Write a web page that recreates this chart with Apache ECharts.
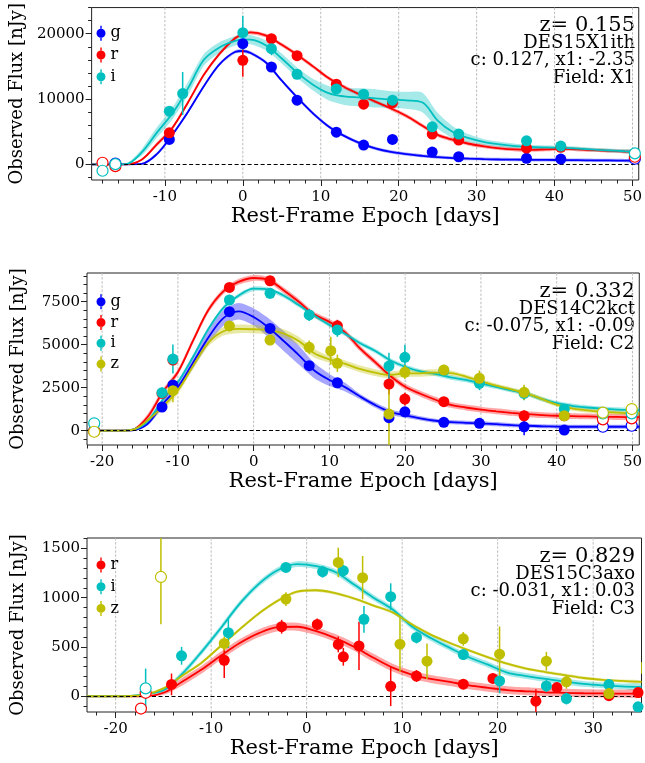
<!DOCTYPE html>
<html><head><meta charset="utf-8">
<script src="https://cdn.jsdelivr.net/npm/echarts@6.0.0/dist/echarts.min.js"></script>
<style>html,body{margin:0;padding:0;background:#fff}#c{width:645px;height:763px}</style>
</head><body><div id="c"></div>
<script>
// ---------------- DATA ----------------
// Panel 1 : DES15X1ith
const P1_XTICKS = [-10, 0, 10, 20, 30, 40, 50];
const P1_YTICKS = [0, 10000, 20000];
const P1_TEXT = ['z= 0.155', 'DES15X1ith', 'c: 0.127, x1: -2.35', 'Field: X1'];
const P1_T = [-19.4,-17,-15,-13,-11,-9,-7,-5,-3,-1,0,1,3,5,7,9,11,13,15,17,19,21,23,25,27,29,31,33,35,37,39,41,43,45,47,49,50.8];
const P1_G_MODEL = [0,0,0,60,1600,4600,8100,11950,15300,17200,17350,17050,15550,12800,10200,7800,5800,4350,3250,2450,1900,1550,1300,1100,960,860,790,740,710,690,670,650,630,610,590,570,550];
const P1_G_WIDTH = [0,0,0,100,250,250,250,250,250,250,250,250,250,250,250,250,250,250,250,250,250,250,250,250,250,250,250,250,250,250,250,250,250,250,250,250,250];
const P1_R_MODEL = [0,0,0,700,3100,5650,9550,13700,16900,19300,19900,20200,19700,18300,16750,15000,13200,11850,10700,9600,8550,7400,5950,4500,3750,3150,2750,2450,2280,2220,2300,2380,2280,2170,2060,1960,1900];
const P1_R_WIDTH = [0,0,0,150,300,300,300,300,300,300,300,300,300,300,300,300,300,300,300,300,300,300,300,300,300,300,300,300,300,300,300,300,300,300,300,300,300];
const P1_I_MODEL = [0,0,40,1800,4900,7850,11700,16000,17900,18900,19130,19100,18200,16200,14000,12200,10900,10400,10250,10100,9900,9800,9500,6700,4900,4000,3400,3050,2800,2650,2580,2530,2400,2250,2120,2000,1920];
const P1_I_WIDTH = [0,0,0,500,800,900,1000,900,800,700,700,700,750,750,800,900,1100,1300,1400,1400,1300,1300,1500,1200,900,600,450,400,350,300,300,300,300,300,300,300,300];
// points: [epoch, flux, error]
const P1_G_PTS = [[-9.43,3820,300],[0,18470,500],[3.67,14900,400],[6.96,9820,400],[12.0,4930,350],[15.5,2950,300],[19.2,3820,350],[24.3,1880,300],[27.7,1160,300],[36.4,920,250],[40.8,810,250]];
const P1_G_OPEN = [[-16.35,100,300],[50.3,850,250]];
const P1_R_PTS = [[-9.43,4820,400],[0,15920,2500],[3.67,19240,400],[6.96,16640,400],[12.0,12260,400],[15.5,9210,400],[19.2,9400,400],[24.3,4630,400],[27.7,3710,400],[36.4,2490,350],[40.8,2600,350]];
const P1_R_OPEN = [[-18.0,240,300],[-16.35,-280,300],[50.3,1160,300]];
const P1_I_PTS = [[-9.43,8140,500],[-7.72,10840,3300],[0,20150,2600],[3.67,17710,1000],[6.96,13790,400],[12.0,11540,400],[15.5,10730,400],[19.2,9820,400],[24.3,5740,400],[27.7,4630,400],[36.4,3600,350],[40.8,2790,350]];
const P1_I_OPEN = [[-18.0,-980,300],[-16.35,30,300],[50.3,1680,300]];

// Panel 2 : DES14C2kct
const P2_XTICKS = [-20, -10, 0, 10, 20, 30, 40, 50];
const P2_YTICKS = [0, 2500, 5000, 7500];
const P2_TEXT = ['z= 0.332', 'DES14C2kct', 'c: -0.075, x1: -0.09', 'Field: C2'];
const P2_T = [-22,-20,-18,-16,-14,-12,-10,-8,-6,-4,-2,0,2,4,6,8,10,12,14,16,18,20,22,24,26,28,30,32,34,36,38,40,42,44,46,48,50,50.9];
const P2_G_MODEL = [0,0,0,20,400,1550,2540,3950,5400,6550,6940,6610,5980,5200,4380,3500,2950,2550,2000,1500,1100,900,720,580,500,460,430,380,320,290,260,240,230,230,230,230,230,230];
const P2_G_WIDTH = [0,0,0,0,100,200,250,300,400,450,480,500,550,580,550,450,350,250,150,150,150,150,120,120,120,120,120,120,120,120,120,120,120,120,120,120,120,120];
const P2_R_MODEL = [0,0,0,60,800,2250,3410,5240,7000,8100,8650,8880,8760,8150,7480,6750,6330,5750,4800,4000,3200,2560,2150,1800,1500,1350,1230,1130,1040,960,910,870,850,830,810,800,790,785];
const P2_R_WIDTH = [0,0,0,0,170,170,170,170,170,170,170,170,170,170,170,170,170,170,170,170,170,170,170,170,170,170,170,170,170,170,170,170,170,170,170,170,170,170];
const P2_I_MODEL = [0,0,0,60,550,1800,2830,4300,5900,7140,7850,8260,8200,7850,7290,6700,6150,5650,5100,4650,4100,3720,3450,3300,3100,2950,2750,2550,2350,2150,1850,1600,1450,1350,1280,1230,1200,1190];
const P2_I_WIDTH = [0,0,0,0,130,130,130,130,130,130,130,130,130,130,130,130,130,130,130,130,130,130,130,130,130,130,130,130,130,130,130,130,130,130,130,130,130,130];
const P2_Z_MODEL = [0,0,0,50,600,1400,2350,3770,5100,5780,5920,5900,5850,5650,5200,4500,4150,3900,3600,3380,3240,3330,3340,3380,3350,3150,2880,2620,2400,2170,1850,1520,1300,1180,1100,1050,1010,1000];
const P2_Z_WIDTH = [0,0,0,0,100,200,200,200,200,250,250,250,250,250,250,250,200,200,200,200,200,200,200,200,150,120,120,120,120,120,120,120,120,120,120,120,120,120];
const P2_G_PTS = [[-12.1,1380,200],[-10.66,2660,250],[-3.2,6920,250],[2.16,5950,250],[7.33,3780,200],[11.05,2790,200],[17.86,760,300],[19.96,1100,250],[25.1,490,200],[29.8,430,200],[35.7,230,500],[41.0,40,200]];
const P2_G_OPEN = [[-21.05,0,150],[46.1,230,150],[49.9,290,150]];
const P2_R_PTS = [[-12.1,2170,250],[-10.66,4110,300],[-3.2,8330,250],[2.16,8720,250],[11.05,6100,350],[17.86,2710,600],[19.96,1840,370],[25.1,1690,250],[35.7,870,300],[41.0,870,250]];
const P2_R_OPEN = [[-21.05,-30,150],[46.1,660,150],[49.9,720,150]];
const P2_I_PTS = [[-12.1,2210,300],[-10.66,4170,850],[-3.2,7600,300],[2.16,7990,300],[7.33,6730,350],[11.05,5860,400],[17.86,3760,780],[19.96,4270,730],[25.1,3480,300],[29.8,2760,400],[35.7,2170,400],[41.0,1260,300]];
const P2_I_OPEN = [[-21.05,430,150],[46.1,1000,150],[49.9,1010,150]];
const P2_Z_PTS = [[-10.66,2330,680],[-3.2,6090,300],[2.16,5270,300],[7.33,4850,400],[10.18,4650,820],[11.05,3920,500],[17.86,970,1800],[19.96,3400,400],[25.1,3530,300],[29.8,3050,450],[35.7,2230,450],[41.0,870,300]];
const P2_Z_OPEN = [[-21.05,-60,150],[46.1,1050,150],[49.9,1260,150]];

// Panel 3 : DES15C3axo
const P3_XTICKS = [-20, -10, 0, 10, 20, 30];
const P3_YTICKS = [0, 500, 1000, 1500];
const P3_TEXT = ['z= 0.829', 'DES15C3axo', 'c: -0.031, x1: 0.03', 'Field: C3'];
const P3_T = [-23,-21,-19,-17,-15,-13,-11,-9,-7,-5,-3,-1,1,3,5,7,9,11,13,15,17,19,21,23,25,27,29,31,33,35.06];
const P3_R_MODEL = [0,0,0,0,35,150,270,410,540,640,700,705,660,590,500,390,290,220,175,145,110,85,62,50,40,35,30,28,27,27];
const P3_R_WIDTH = [0,0,0,0,20,40,40,40,40,40,40,40,40,40,40,40,40,40,40,40,40,40,40,40,40,40,40,40,40,40];
const P3_I_MODEL = [0,0,0,20,60,230,450,690,940,1140,1280,1340,1320,1260,1130,1000,880,710,590,490,395,320,240,205,175,150,125,110,100,95];
const P3_I_WIDTH = [0,0,0,0,15,30,30,30,30,30,30,30,30,30,30,30,30,30,30,30,30,30,30,30,30,30,30,30,30,30];
const P3_Z_MODEL = [0,0,0,15,80,210,340,510,680,840,970,1060,1075,1045,990,920,850,730,625,540,465,395,330,280,245,215,185,165,155,145];
const P3_Z_WIDTH = [0,0,0,0,10,15,15,15,15,15,15,15,15,15,15,15,15,15,15,15,15,15,15,15,15,15,15,15,15,15];
const P3_R_PTS = [[-14.15,120,110],[-8.63,365,180],[-2.62,705,70],[1.11,728,60],[3.31,525,80],[3.84,400,90],[5.48,510,245],[8.8,100,200],[11.5,205,60],[16.4,122,50],[19.5,180,50],[24.0,-50,120],[26.2,88,50],[31.65,5,50],[34.7,37,50]];
const P3_R_OPEN = [[-17.35,-125,40],[-16.86,35,40]];
const P3_I_PTS = [[-13.1,410,90],[-8.2,645,155],[-2.17,1307,40],[1.67,1263,60],[3.84,1273,60],[6.0,780,135],[8.8,1010,135],[11.5,596,60],[16.4,423,40],[20.2,155,125],[25.1,105,60],[27.2,-24,60],[31.65,118,50],[34.7,-108,50]];
const P3_I_OPEN = [[-16.86,80,200]];
const P3_Z_PTS = [[-8.63,535,70],[-2.17,985,70],[3.31,1357,150],[5.86,1202,220],[9.77,528,280],[12.6,355,180],[16.4,582,70],[20.2,427,280],[25.1,355,95],[27.2,146,70],[31.65,27,70],[35.1,288,60]];
const P3_Z_OPEN = [[-15.26,1210,480]];

// ---------------- STYLE / LAYOUT ----------------
const FONT = 'DejaVu Serif';
const COLORS = { g: '#0000ff', r: '#ff0000', i: '#00bfbf', z: '#bfbf00' };
const X_NAME = 'Rest-Frame Epoch [days]';
const Y_NAME = 'Observed Flux [nJy]';
const LEG_ICON = 'path://M0,7.5 A4.5,4.5 0 1,0 9,7.5 A4.5,4.5 0 1,0 0,7.5 Z M3.8,0 L5.2,0 L5.2,3.2 L3.8,3.2 Z M3.8,11.8 L5.2,11.8 L5.2,15 L3.8,15 Z';

const PANELS = [
  { top: 7, height: 173, xMin: -19.4, xMax: 50.8, yMin: -2400, yMax: 24000,
    xMajor: P1_XTICKS, xStep: 2, yMajor: P1_YTICKS, yStep: 2000, t: P1_T, text: P1_TEXT,
    legendTop: 25.3, legendGap: 5.7,
    bands: [
      { band: 'g', model: P1_G_MODEL, width: P1_G_WIDTH, pts: P1_G_PTS, open: P1_G_OPEN },
      { band: 'r', model: P1_R_MODEL, width: P1_R_WIDTH, pts: P1_R_PTS, open: P1_R_OPEN },
      { band: 'i', model: P1_I_MODEL, width: P1_I_WIDTH, pts: P1_I_PTS, open: P1_I_OPEN }
    ] },
  { top: 273, height: 172, xMin: -22, xMax: 50.9, yMin: -830, yMax: 9170,
    xMajor: P2_XTICKS, xStep: 2, yMajor: P2_YTICKS, yStep: 500, t: P2_T, text: P2_TEXT,
    legendTop: 293.7, legendGap: 4.8,
    bands: [
      { band: 'g', model: P2_G_MODEL, width: P2_G_WIDTH, pts: P2_G_PTS, open: P2_G_OPEN },
      { band: 'r', model: P2_R_MODEL, width: P2_R_WIDTH, pts: P2_R_PTS, open: P2_R_OPEN },
      { band: 'i', model: P2_I_MODEL, width: P2_I_WIDTH, pts: P2_I_PTS, open: P2_I_OPEN },
      { band: 'z', model: P2_Z_MODEL, width: P2_Z_WIDTH, pts: P2_Z_PTS, open: P2_Z_OPEN }
    ] },
  { top: 538, height: 174, xMin: -23, xMax: 35.06, yMin: -160, yMax: 1605,
    xMajor: P3_XTICKS, xStep: 2, yMajor: P3_YTICKS, yStep: 100, t: P3_T, text: P3_TEXT,
    legendTop: 557, legendGap: 5.7,
    bands: [
      { band: 'r', model: P3_R_MODEL, width: P3_R_WIDTH, pts: P3_R_PTS, open: P3_R_OPEN },
      { band: 'i', model: P3_I_MODEL, width: P3_I_WIDTH, pts: P3_I_PTS, open: P3_I_OPEN },
      { band: 'z', model: P3_Z_MODEL, width: P3_Z_WIDTH, pts: P3_Z_PTS, open: P3_Z_OPEN }
    ] }
];

function minorTicks(min, max, step, majors) {
  const out = [];
  for (let v = Math.ceil(min / step) * step; v <= max + 1e-9; v += step) {
    if (majors.indexOf(v) < 0) out.push(v);
  }
  return out;
}
const fmt = v => String(v);

const grid = [], xAxis = [], yAxis = [], series = [], legend = [], graphic = [];
PANELS.forEach((P, k) => {
  grid.push({ left: 87, right: 3.5, top: P.top, height: P.height, show: true,
    borderColor: '#222', borderWidth: 1, backgroundColor: 'transparent', containLabel: false });
  xAxis.push({ gridIndex: k, type: 'value', min: P.xMin, max: P.xMax, position: 'bottom',
    axisLine: { show: false, onZero: false },
    axisTick: { show: true, length: 6, lineStyle: { color: '#222', width: 1 }, customValues: P.xMajor },
    axisLabel: { customValues: P.xMajor, formatter: fmt, fontFamily: FONT, fontSize: 15, color: '#000', margin: 10 },
    splitLine: { show: false },
    name: X_NAME, nameLocation: 'middle', nameGap: 25,
    nameTextStyle: { fontFamily: FONT, fontSize: 21, color: '#000' } });
  xAxis.push({ gridIndex: k, type: 'value', min: P.xMin, max: P.xMax, position: 'bottom',
    axisLine: { show: false, onZero: false },
    axisTick: { show: true, length: 3.5, lineStyle: { color: '#222', width: 1 },
      customValues: minorTicks(P.xMin, P.xMax, P.xStep, P.xMajor) },
    axisLabel: { show: false }, splitLine: { show: false } });
  yAxis.push({ gridIndex: k, type: 'value', min: P.yMin, max: P.yMax, position: 'left',
    axisLine: { show: false, onZero: false },
    axisTick: { show: true, length: 6, lineStyle: { color: '#222', width: 1 }, customValues: P.yMajor },
    axisLabel: { customValues: P.yMajor, formatter: fmt, fontFamily: FONT, fontSize: 15, color: '#000', margin: 7 },
    splitLine: { show: false },
    name: Y_NAME, nameLocation: 'middle', nameRotate: 90, nameGap: 60,
    nameTextStyle: { fontFamily: FONT, fontSize: 18, color: '#000' } });
  yAxis.push({ gridIndex: k, type: 'value', min: P.yMin, max: P.yMax, position: 'left',
    axisLine: { show: false, onZero: false },
    axisTick: { show: true, length: 3.5, lineStyle: { color: '#222', width: 1 },
      customValues: minorTicks(P.yMin, P.yMax, P.yStep, P.yMajor) },
    axisLabel: { show: false }, splitLine: { show: false } });

  const xi = 2 * k, yi = 2 * k;
  // vertical dashed grid lines at major x ticks
  series.push({ type: 'custom', name: 'grid' + k, xAxisIndex: xi, yAxisIndex: yi, z: 0, silent: true,
    data: P.xMajor.map(v => [v, P.yMin]),
    renderItem: (params, api) => {
      const cs = params.coordSys;
      const px = api.coord([api.value(0), api.value(1)])[0];
      return { type: 'line', shape: { x1: px, y1: cs.y, x2: px, y2: cs.y + cs.height },
        style: { stroke: '#bdbdbd', lineWidth: 1, lineDash: [2.5, 1.6] } };
    } });

  P.bands.forEach((B, bi) => {
    const c = COLORS[B.band];
    // uncertainty band: one polygon built from the model +/- width arrays through the axes
    const bandData = P.t.map((t, j) => [t, B.model[j] - B.width[j], B.model[j] + B.width[j]]);
    series.push({ type: 'custom', name: 'bd' + k + B.band, xAxisIndex: xi, yAxisIndex: yi, z: 1, silent: true, clip: true,
      data: bandData, encode: { x: 0, y: [1, 2] },
      renderItem: (params, api) => {
        if (params.dataIndex !== 0) return null;
        const up = bandData.map(d => api.coord([d[0], d[2]]));
        const lo = bandData.map(d => api.coord([d[0], d[1]])).reverse();
        return { type: 'polygon', shape: { points: up.concat(lo), smooth: 0.25 },
          style: { fill: c, opacity: 0.35 } };
      } });
    const model = { type: 'line', name: 'm' + k + B.band, xAxisIndex: xi, yAxisIndex: yi,
      data: P.t.map((t, j) => [t, B.model[j]]), smooth: 0.35, symbol: 'none',
      lineStyle: { color: c, width: 1.8 }, itemStyle: { color: c }, z: 2, silent: true };
    if (bi === 0) {
      model.markLine = { silent: true, symbol: ['none', 'none'], label: { show: false }, z: 2.5,
        lineStyle: { color: '#000', type: [4, 2.5], width: 1.2 }, data: [{ yAxis: 0 }] };
    }
    series.push(model);
    series.push({ type: 'custom', name: 'e' + k + B.band, xAxisIndex: xi, yAxisIndex: yi, z: 3, silent: true, clip: true,
      data: B.pts.concat(B.open),
      renderItem: (params, api) => {
        const x = api.value(0), y = api.value(1), e = api.value(2);
        const a = api.coord([x, y - e]), b = api.coord([x, y + e]);
        return { type: 'line', shape: { x1: a[0], y1: a[1], x2: b[0], y2: b[1] },
          style: { stroke: c, lineWidth: 1.5 } };
      } });
    series.push({ type: 'scatter', name: B.band, xAxisIndex: xi, yAxisIndex: yi, z: 4, silent: true, clip: true,
      data: B.pts.map(p => [p[0], p[1]]), symbol: 'circle', symbolSize: 11,
      itemStyle: { color: c, opacity: 1 } });
    series.push({ type: 'scatter', name: 'o' + k + B.band, xAxisIndex: xi, yAxisIndex: yi, z: 4, silent: true, clip: true,
      data: B.open.map(p => [p[0], p[1]]), symbol: 'circle', symbolSize: 11,
      itemStyle: { color: '#ffffff', borderColor: c, borderWidth: 1.2, opacity: 1 } });
  });

  legend.push({ data: P.bands.map(B => ({ name: B.band, icon: LEG_ICON })), orient: 'vertical',
    left: 96.5, top: P.legendTop, padding: 0, itemWidth: 9, itemHeight: 15, itemGap: P.legendGap,
    selectedMode: false,
    textStyle: { fontFamily: FONT, fontSize: 16, color: '#000', lineHeight: 16 } });

  const offs = [18.2, 36.2, 53.7, 71];
  P.text.forEach((s, j) => {
    graphic.push({ type: 'text', x: 635, y: P.top + offs[j], silent: true,
      style: { text: s, fill: '#000', fontFamily: FONT, fontSize: j === 0 ? 21 : 18,
        align: 'right', verticalAlign: 'middle' } });
  });
});

const chart = echarts.init(document.getElementById('c'), null, { renderer: 'canvas' });
chart.setOption({ animation: false, backgroundColor: '#fff', grid, xAxis, yAxis, series, legend, graphic });
</script></body></html>
